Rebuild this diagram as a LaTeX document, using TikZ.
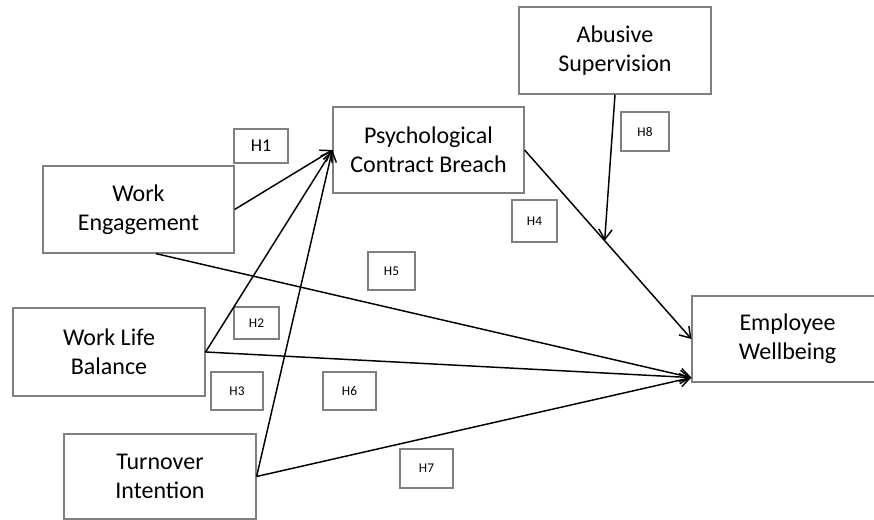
\documentclass[tikz,border=0pt]{standalone}
\usepackage{fontspec}
\setmainfont{Carlito}
\usetikzlibrary{arrows.meta,calc}

\begin{document}
\begin{tikzpicture}[x=0.75pt, y=-0.75pt,
    varbox/.style={draw=black!50, line width=0.9pt, align=center, inner sep=0pt,
      font=\fontsize{18}{21.75}\selectfont},
    hbox/.style={draw=black!50, line width=0.9pt, inner sep=0pt,
      font=\fontsize{10}{12}\selectfont},
    link/.style={-{Straight Barb[length=7.5pt,width=10pt]}, line width=1.1pt}]
      \def\px{0.75pt}
      \useasboundingbox (0,0) rectangle (874,520);
      \clip (0,0) rectangle (874,520);
      %
      \node[varbox, minimum width=191*\px, minimum height=87*\px] (we) at (138.5,209.5) {Work\\Engagement};
      \node[varbox, minimum width=191*\px, minimum height=86*\px] (pcb) at (428.5,150) {Psychological\\Contract Breach};
      \node[varbox, minimum width=192*\px, minimum height=87*\px] (as) at (615,50.5) {Abusive\\Supervision};
      \node[varbox, minimum width=192*\px, minimum height=88*\px] (wlb) at (109,352) {Work Life\\Balance};
      \node[varbox, minimum width=192*\px, minimum height=85*\px] (ti) at (160,476.5) {Turnover\\Intention};
      \node[varbox, minimum width=191*\px, minimum height=86*\px] (ew) at (787.5,339) {Employee\\Wellbeing};
      %
      \node[hbox, minimum width=54*\px, minimum height=34*\px, font=\fontsize{13.5}{15}\selectfont] (h1) at (261,146) {H1};
      \node[hbox, minimum width=45*\px, minimum height=32*\px] (h2) at (256.5,323) {H2};
      \node[hbox, minimum width=52*\px, minimum height=38*\px] (h3) at (237,391) {H3};
      \node[hbox, minimum width=45*\px, minimum height=42*\px] (h4) at (534.5,221) {H4};
      \node[hbox, minimum width=47*\px, minimum height=38*\px] (h5) at (391.5,271) {H5};
      \node[hbox, minimum width=53*\px, minimum height=38*\px] (h6) at (349.5,391) {H6};
      \node[hbox, minimum width=53*\px, minimum height=39*\px] (h7) at (426.5,468.5) {H7};
      \node[hbox, minimum width=48*\px, minimum height=39*\px] (h8) at (645,131.5) {H8};
      %
      \coordinate (ewin) at ($(ew.south west)+(0,-5)$);   % shared arrow end
      \coordinate (mod) at ($(pcb.east)!0.48!(ew.west)$);  % moderation point
      %
      \draw[link] (we.east) -- (pcb.west);
      \draw[link] (wlb.east) -- (pcb.west);
      \draw[link] (ti.east) -- (pcb.west);
      \draw[link] ([xshift=13pt]we.south) -- (ewin);
      \draw[link] (wlb.east) -- (ewin);
      \draw[link] (ti.east) -- (ewin);
      \draw[link] (pcb.east) -- (ew.west);
      \draw[link] (as.south) -- (mod);
      %
    \end{tikzpicture}
\end{document}
